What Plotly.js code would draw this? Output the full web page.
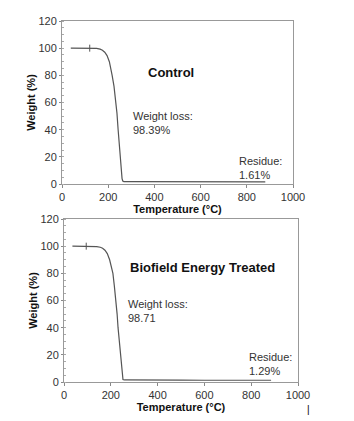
<!DOCTYPE html>
<html><head><meta charset="utf-8">
<script src="https://cdn.plot.ly/plotly-3.0.1.min.js"></script>
<style>html,body{margin:0;padding:0;background:#fff}</style>
</head><body><div id="chart" style="width:354px;height:421px"></div>
<script>
// Control sample TGA
const controlTemp = [38, 80, 120, 150, 165, 175, 185, 195, 205, 212, 217, 225, 232, 238, 243, 248, 252, 256, 260, 263, 268, 300, 400, 500, 600, 700, 800, 880];
const controlWeight = [100, 100, 100, 99.8, 99.3, 98.5, 97, 94.5, 90, 85, 80, 72, 62, 52, 40, 28, 18, 9, 4, 2.2, 1.8, 1.7, 1.65, 1.63, 1.62, 1.61, 1.61, 1.61];
// Biofield Energy Treated sample TGA
const treatedTemp = [36, 70, 110, 140, 155, 165, 175, 185, 195, 203, 209, 215, 222, 227, 231, 236, 241, 245, 249, 252, 258, 300, 400, 500, 600, 700, 800, 885];
const treatedWeight = [100, 99.9, 99.9, 99.7, 99.2, 98.5, 97, 94.5, 90, 85, 80, 71, 60, 50, 40, 30, 20, 10, 4, 1.8, 1.5, 1.4, 1.35, 1.32, 1.3, 1.29, 1.29, 1.29];
// small cursor marks on the curves
const markTemp = [120, 95];
const markWeight = [100, 100];
const xTicks = [0, 200, 400, 600, 800, 1000];
const yTicks = [0, 20, 40, 60, 80, 100, 120];
const panelTitles = ["Control", "Biofield Energy Treated"];
const lossLabels = ["Weight loss:<br>98.39%", "Weight loss:<br>98.71"];
const residueLabels = ["Residue:<br>1.61%", "Residue:<br>1.29%"];

const W = 354, H = 421;
const lineStyle = {color: '#555', width: 1.2};
const markStyle = {symbol: 'line-ns', size: 5, line: {color: '#555', width: 1}};
const traces = [
  {x: controlTemp, y: controlWeight, xaxis: 'x', yaxis: 'y', mode: 'lines', line: lineStyle, hoverinfo: 'skip'},
  {x: treatedTemp, y: treatedWeight, xaxis: 'x2', yaxis: 'y2', mode: 'lines', line: lineStyle, hoverinfo: 'skip'},
  {x: [markTemp[0]], y: [markWeight[0]], xaxis: 'x', yaxis: 'y', mode: 'markers', marker: markStyle, hoverinfo: 'skip'},
  {x: [markTemp[1]], y: [markWeight[1]], xaxis: 'x2', yaxis: 'y2', mode: 'markers', marker: markStyle, hoverinfo: 'skip'}
];
const tickFont = {family: 'Arial, Liberation Sans, sans-serif', size: 11, color: '#333'};
const titleFont = {family: 'Arial, Liberation Sans, sans-serif', size: 11, color: '#111', weight: 'bold'};
function xax(dom, anchor) {
  return {domain: dom, anchor: anchor, range: [0, 1000], tickvals: xTicks, ticks: 'outside', ticklen: 3,
    tickcolor: '#888', showline: true, linecolor: '#999', linewidth: 1, mirror: true, showgrid: false, zeroline: false,
    tickfont: tickFont, title: {text: 'Temperature (°C)', font: titleFont, standoff: 2}};
}
function yax(dom, anchor) {
  return {domain: dom, anchor: anchor, range: [0, 120], tickvals: yTicks, ticks: 'outside', ticklen: 2,
    tickcolor: '#888', showline: true, linecolor: '#999', linewidth: 1, mirror: true, showgrid: false, zeroline: false,
    minor: {ticks: 'inside', ticklen: 2, dtick: 5, tickcolor: '#aaa', showgrid: false},
    tickfont: tickFont, title: {text: 'Weight (%)', font: titleFont, standoff: 0}};
}
const annFont = {family: 'Arial, Liberation Sans, sans-serif', size: 11, color: '#333'};
const annotations = [
  {xref: 'x', yref: 'y', x: 474, y: 82, text: panelTitles[0], showarrow: false, font: {family: 'Arial, Liberation Sans, sans-serif', size: 13, color: '#111', weight: 'bold'}},
  {xref: 'x', yref: 'y', x: 300, y: 45, text: lossLabels[0], showarrow: false, xanchor: 'left', align: 'left', font: annFont},
  {xref: 'x', yref: 'y', x: 758, y: 11.5, text: residueLabels[0], showarrow: false, xanchor: 'left', align: 'left', font: annFont},
  {xref: 'x2', yref: 'y2', x: 590, y: 84, text: panelTitles[1], showarrow: false, font: {family: 'Arial, Liberation Sans, sans-serif', size: 13, color: '#111', weight: 'bold'}},
  {xref: 'x2', yref: 'y2', x: 263, y: 52.3, text: lossLabels[1], showarrow: false, xanchor: 'left', align: 'left', font: annFont},
  {xref: 'x2', yref: 'y2', x: 783, y: 13.6, text: residueLabels[1], showarrow: false, xanchor: 'left', align: 'left', font: annFont},
  {xref: 'paper', yref: 'paper', x: 312 / W, y: 1 - 402 / H, yanchor: 'top', text: '|', showarrow: false, font: {family: 'Arial', size: 10, color: '#000'}}
];
const layout = {
  width: W, height: H, showlegend: false,
  margin: {l: 0, r: 0, t: 0, b: 0},
  paper_bgcolor: '#fff', plot_bgcolor: '#fff',
  xaxis: xax([62 / W, 293 / W], 'y'),
  yaxis: yax([1 - 184 / H, 1 - 21 / H], 'x'),
  xaxis2: xax([64 / W, 298 / W], 'y2'),
  yaxis2: yax([1 - 382 / H, 1 - 219 / H], 'x2'),
  annotations: annotations
};
Plotly.newPlot('chart', traces, layout, {displayModeBar: false, staticPlot: true});
</script></body></html>
